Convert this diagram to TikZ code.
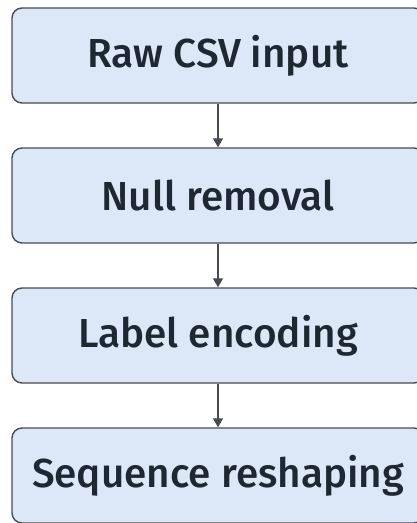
\documentclass[tikz,border=0pt]{standalone}
\usepackage{fontspec}
\setmainfont{Fira Sans Medium}
\usetikzlibrary{arrows.meta}
\definecolor{boxfill}{HTML}{DCE8F7}
\definecolor{boxline}{HTML}{464B52}
\definecolor{txt}{HTML}{1E2833}
\tikzset{
  stage/.style={draw=boxline, line width=1.4pt, fill=boxfill, rounded corners=10pt,
    minimum width=412pt, minimum height=95pt, inner sep=0pt,
    font=\fontsize{40.5}{45}\selectfont, text=txt},
  flow/.style={draw=boxline, line width=1.3pt, -{Triangle[length=9pt,width=10pt]}}
}
\begin{document}
\begin{tikzpicture}[x=1pt,y=-1pt]
\useasboundingbox (0,0) rectangle (417,523);
\clip (0,0) rectangle (417,523);
\node[stage] (raw) at (218,55.5) {Raw CSV input};
\node[stage] (null) at (218,195.5) {Null removal};
\node[stage] (label) at (218,335.5) {Label encoding};
\node[stage] (seq) at (218,475.5) {Sequence reshaping};
\draw[flow] (raw) -- (null);
\draw[flow] (null) -- (label);
\draw[flow] (label) -- (seq);
\end{tikzpicture}
\end{document}
